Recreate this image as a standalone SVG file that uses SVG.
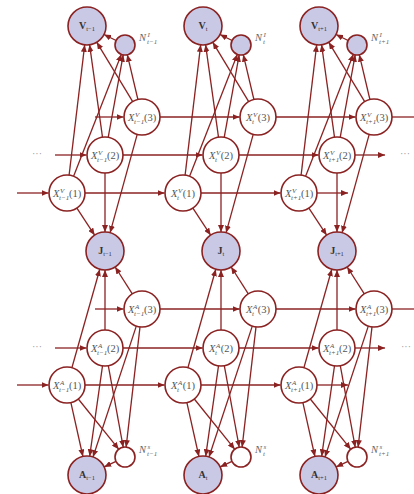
<svg xmlns="http://www.w3.org/2000/svg" width="414" height="494" viewBox="0 0 414 494">
  <style>
    .e { stroke: #8b2222; stroke-width: 1.3; fill: none; marker-end: url(#ah); }
    .h { stroke: #8b2222; stroke-width: 1.3; fill: none; }
    .obs { fill: #c9c9e6; stroke: #8b2222; stroke-width: 1.6; }
    .hid { fill: #ffffff; stroke: #8b2222; stroke-width: 1.6; }
    text { font-family: "Liberation Serif", "DejaVu Serif", serif; }
    .bl { font-size: 10px; font-weight: bold; fill: #333; text-anchor: middle; }
    .bs { font-size: 6.5px; font-weight: normal; }
    .xl { font-size: 10.5px; fill: #555; }
    .it { font-style: italic; }
    .sc { font-size: 7px; font-style: italic; }
    .nl { font-size: 10.5px; fill: #666; }
    .dots { font-size: 10px; fill: #999; text-anchor: middle; }
  </style>
  <defs>
    <marker id="ah" markerUnits="userSpaceOnUse" markerWidth="7" markerHeight="6" refX="7" refY="3" orient="auto">
      <path d="M0,0 L7,3 L0,6 z" fill="#8b2222"/>
    </marker>
  </defs>

  <g id="connectors">
    <!-- horizontal chains: V-side rows -->
    <line class="e" x1="17" y1="193" x2="48.5" y2="193"/>
    <line class="e" x1="85" y1="193" x2="164.5" y2="193"/>
    <line class="e" x1="201" y1="193" x2="280.5" y2="193"/>
    <line class="e" x1="317" y1="193" x2="348" y2="193"/>
    <line class="e" x1="55" y1="155" x2="86.5" y2="155"/>
    <line class="e" x1="123" y1="155" x2="202.5" y2="155"/>
    <line class="e" x1="239" y1="155" x2="318.5" y2="155"/>
    <line class="e" x1="355" y1="155" x2="385" y2="155"/>
    <line class="e" x1="95" y1="117" x2="123.5" y2="117"/>
    <line class="e" x1="160" y1="117" x2="239.5" y2="117"/>
    <line class="e" x1="276" y1="117" x2="355.5" y2="117"/>
    <line class="h" x1="392" y1="117" x2="416" y2="117"/>
    <!-- horizontal chains: A-side rows -->
    <line class="e" x1="17" y1="385" x2="48.5" y2="385"/>
    <line class="e" x1="85" y1="385" x2="164.5" y2="385"/>
    <line class="e" x1="201" y1="385" x2="280.5" y2="385"/>
    <line class="e" x1="317" y1="385" x2="348" y2="385"/>
    <line class="e" x1="55" y1="348" x2="86.5" y2="348"/>
    <line class="e" x1="123" y1="348" x2="202.5" y2="348"/>
    <line class="e" x1="239" y1="348" x2="318.5" y2="348"/>
    <line class="e" x1="355" y1="348" x2="385" y2="348"/>
    <line class="e" x1="95" y1="309" x2="123.5" y2="309"/>
    <line class="e" x1="160" y1="309" x2="239.5" y2="309"/>
    <line class="e" x1="276" y1="309" x2="355.5" y2="309"/>
    <line class="h" x1="392" y1="309" x2="416" y2="309"/>

    <!-- per-slice edges, x relative to the J node -->
    <g id="edges-t-1" transform="translate(105,0)">
      <line class="e" x1="11.1" y1="40.5" x2="-1" y2="34.5"/>
      <line class="e" x1="27.7" y1="101.6" x2="-8.2" y2="42.3"/>
      <line class="e" x1="32.9" y1="99.5" x2="22.3" y2="54.7"/>
      <line class="e" x1="-2.5" y1="137.2" x2="-15.4" y2="44.8"/>
      <line class="e" x1="3.2" y1="137.3" x2="18.2" y2="54.8"/>
      <line class="e" x1="-35.9" y1="175.1" x2="-20.3" y2="44.9"/>
      <line class="e" x1="-31.4" y1="176.2" x2="16.4" y2="54.3"/>
      <line class="e" x1="-28.1" y1="208.1" x2="-10.4" y2="235.1"/>
      <line class="e" x1="0" y1="173" x2="0" y2="232"/>
      <line class="e" x1="32.2" y1="134.4" x2="5.1" y2="232.7"/>
      <line class="e" x1="27.3" y1="293.8" x2="10.2" y2="267"/>
      <line class="e" x1="0" y1="330" x2="0" y2="270"/>
      <line class="e" x1="-33.1" y1="367.7" x2="-5.2" y2="269.3"/>
      <line class="e" x1="-34.1" y1="402.6" x2="-22.1" y2="456.5"/>
      <line class="e" x1="-2.5" y1="365.8" x2="-15.3" y2="456.2"/>
      <line class="e" x1="31.3" y1="326.1" x2="-12" y2="457"/>
      <line class="e" x1="-26.7" y1="399" x2="13.7" y2="449.2"/>
      <line class="e" x1="3.3" y1="365.7" x2="18.2" y2="447.2"/>
      <line class="e" x1="35" y1="326.9" x2="21.1" y2="447.1"/>
      <line class="e" x1="11" y1="461.3" x2="-0.8" y2="466.9"/>
    </g>
    <g id="edges-t" transform="translate(221,0)">
      <line class="e" x1="11.1" y1="40.5" x2="-1" y2="34.5"/>
      <line class="e" x1="27.7" y1="101.6" x2="-8.2" y2="42.3"/>
      <line class="e" x1="32.9" y1="99.5" x2="22.3" y2="54.7"/>
      <line class="e" x1="-2.5" y1="137.2" x2="-15.4" y2="44.8"/>
      <line class="e" x1="3.2" y1="137.3" x2="18.2" y2="54.8"/>
      <line class="e" x1="-35.9" y1="175.1" x2="-20.3" y2="44.9"/>
      <line class="e" x1="-31.4" y1="176.2" x2="16.4" y2="54.3"/>
      <line class="e" x1="-28.1" y1="208.1" x2="-10.4" y2="235.1"/>
      <line class="e" x1="0" y1="173" x2="0" y2="232"/>
      <line class="e" x1="32.2" y1="134.4" x2="5.1" y2="232.7"/>
      <line class="e" x1="27.3" y1="293.8" x2="10.2" y2="267"/>
      <line class="e" x1="0" y1="330" x2="0" y2="270"/>
      <line class="e" x1="-33.1" y1="367.7" x2="-5.2" y2="269.3"/>
      <line class="e" x1="-34.1" y1="402.6" x2="-22.1" y2="456.5"/>
      <line class="e" x1="-2.5" y1="365.8" x2="-15.3" y2="456.2"/>
      <line class="e" x1="31.3" y1="326.1" x2="-12" y2="457"/>
      <line class="e" x1="-26.7" y1="399" x2="13.7" y2="449.2"/>
      <line class="e" x1="3.3" y1="365.7" x2="18.2" y2="447.2"/>
      <line class="e" x1="35" y1="326.9" x2="21.1" y2="447.1"/>
      <line class="e" x1="11" y1="461.3" x2="-0.8" y2="466.9"/>
    </g>
    <g id="edges-t+1" transform="translate(337,0)">
      <line class="e" x1="11.1" y1="40.5" x2="-1" y2="34.5"/>
      <line class="e" x1="27.7" y1="101.6" x2="-8.2" y2="42.3"/>
      <line class="e" x1="32.9" y1="99.5" x2="22.3" y2="54.7"/>
      <line class="e" x1="-2.5" y1="137.2" x2="-15.4" y2="44.8"/>
      <line class="e" x1="3.2" y1="137.3" x2="18.2" y2="54.8"/>
      <line class="e" x1="-35.9" y1="175.1" x2="-20.3" y2="44.9"/>
      <line class="e" x1="-31.4" y1="176.2" x2="16.4" y2="54.3"/>
      <line class="e" x1="-28.1" y1="208.1" x2="-10.4" y2="235.1"/>
      <line class="e" x1="0" y1="173" x2="0" y2="232"/>
      <line class="e" x1="32.2" y1="134.4" x2="5.1" y2="232.7"/>
      <line class="e" x1="27.3" y1="293.8" x2="10.2" y2="267"/>
      <line class="e" x1="0" y1="330" x2="0" y2="270"/>
      <line class="e" x1="-33.1" y1="367.7" x2="-5.2" y2="269.3"/>
      <line class="e" x1="-34.1" y1="402.6" x2="-22.1" y2="456.5"/>
      <line class="e" x1="-2.5" y1="365.8" x2="-15.3" y2="456.2"/>
      <line class="e" x1="31.3" y1="326.1" x2="-12" y2="457"/>
      <line class="e" x1="-26.7" y1="399" x2="13.7" y2="449.2"/>
      <line class="e" x1="3.3" y1="365.7" x2="18.2" y2="447.2"/>
      <line class="e" x1="35" y1="326.9" x2="21.1" y2="447.1"/>
      <line class="e" x1="11" y1="461.3" x2="-0.8" y2="466.9"/>
    </g>
  </g>

  <!-- continuation dots -->
  <text class="dots" x="37" y="157">···</text>
  <text class="dots" x="405" y="157">···</text>
  <text class="dots" x="37" y="350">···</text>
  <text class="dots" x="406" y="350">···</text>

  <!-- slice t-1 -->
  <g id="V-t-1" transform="translate(87,26)"><circle class="obs" r="19"/><text class="bl" y="3">V<tspan class="bs" dy="1.5">t−1</tspan></text></g>
  <g id="NI-t-1" transform="translate(125,45)"><circle class="obs" r="10"/><text class="nl" x="14" y="-4"><tspan class="it">N</tspan><tspan class="sc" x="22.5" dy="-4">I</tspan><tspan class="sc" x="22" dy="7">t−1</tspan></text></g>
  <g id="XV3-t-1" transform="translate(142,117)"><circle class="hid" r="18"/><text class="xl" y="3.5"><tspan class="it" x="-14">X</tspan><tspan class="sc" x="-7" dy="-4">V</tspan><tspan class="sc" x="-8" dy="7">t−1</tspan><tspan x="2" dy="-3">(3)</tspan></text></g>
  <g id="XV2-t-1" transform="translate(105,155)"><circle class="hid" r="18"/><text class="xl" y="3.5"><tspan class="it" x="-14">X</tspan><tspan class="sc" x="-7" dy="-4">V</tspan><tspan class="sc" x="-8" dy="7">t−1</tspan><tspan x="2" dy="-3">(2)</tspan></text></g>
  <g id="XV1-t-1" transform="translate(67,193)"><circle class="hid" r="18"/><text class="xl" y="3.5"><tspan class="it" x="-14">X</tspan><tspan class="sc" x="-7" dy="-4">V</tspan><tspan class="sc" x="-8" dy="7">t−1</tspan><tspan x="2" dy="-3">(1)</tspan></text></g>
  <g id="J-t-1" transform="translate(105,251)"><circle class="obs" r="19"/><text class="bl" y="3">J<tspan class="bs" dy="1.5">t−1</tspan></text></g>
  <g id="XA3-t-1" transform="translate(142,309)"><circle class="hid" r="18"/><text class="xl" y="3.5"><tspan class="it" x="-14">X</tspan><tspan class="sc" x="-7" dy="-4">A</tspan><tspan class="sc" x="-8" dy="7">t−1</tspan><tspan x="2" dy="-3">(3)</tspan></text></g>
  <g id="XA2-t-1" transform="translate(105,348)"><circle class="hid" r="18"/><text class="xl" y="3.5"><tspan class="it" x="-14">X</tspan><tspan class="sc" x="-7" dy="-4">A</tspan><tspan class="sc" x="-8" dy="7">t−1</tspan><tspan x="2" dy="-3">(2)</tspan></text></g>
  <g id="XA1-t-1" transform="translate(67,385)"><circle class="hid" r="18"/><text class="xl" y="3.5"><tspan class="it" x="-14">X</tspan><tspan class="sc" x="-7" dy="-4">A</tspan><tspan class="sc" x="-8" dy="7">t−1</tspan><tspan x="2" dy="-3">(1)</tspan></text></g>
  <g id="NS-t-1" transform="translate(125,457)"><circle class="hid" r="10"/><text class="nl" x="14" y="-4"><tspan class="it">N</tspan><tspan class="sc" x="22.5" dy="-4">s</tspan><tspan class="sc" x="22" dy="7">t−1</tspan></text></g>
  <g id="A-t-1" transform="translate(87,475)"><circle class="obs" r="19"/><text class="bl" y="3">A<tspan class="bs" dy="1.5">t−1</tspan></text></g>

  <!-- slice t -->
  <g id="V-t" transform="translate(203,26)"><circle class="obs" r="19"/><text class="bl" y="3">V<tspan class="bs" dy="1.5">t</tspan></text></g>
  <g id="NI-t" transform="translate(241,45)"><circle class="obs" r="10"/><text class="nl" x="14" y="-4"><tspan class="it">N</tspan><tspan class="sc" x="22.5" dy="-4">I</tspan><tspan class="sc" x="22" dy="7">t</tspan></text></g>
  <g id="XV3-t" transform="translate(258,117)"><circle class="hid" r="18"/><text class="xl" y="3.5"><tspan class="it" x="-12">X</tspan><tspan class="sc" x="-5" dy="-4">V</tspan><tspan class="sc" x="-6" dy="7">t</tspan><tspan x="-0.2" dy="-3">(3)</tspan></text></g>
  <g id="XV2-t" transform="translate(221,155)"><circle class="hid" r="18"/><text class="xl" y="3.5"><tspan class="it" x="-12">X</tspan><tspan class="sc" x="-5" dy="-4">V</tspan><tspan class="sc" x="-6" dy="7">t</tspan><tspan x="-0.2" dy="-3">(2)</tspan></text></g>
  <g id="XV1-t" transform="translate(183,193)"><circle class="hid" r="18"/><text class="xl" y="3.5"><tspan class="it" x="-12">X</tspan><tspan class="sc" x="-5" dy="-4">V</tspan><tspan class="sc" x="-6" dy="7">t</tspan><tspan x="-0.2" dy="-3">(1)</tspan></text></g>
  <g id="J-t" transform="translate(221,251)"><circle class="obs" r="19"/><text class="bl" y="3">J<tspan class="bs" dy="1.5">t</tspan></text></g>
  <g id="XA3-t" transform="translate(258,309)"><circle class="hid" r="18"/><text class="xl" y="3.5"><tspan class="it" x="-12">X</tspan><tspan class="sc" x="-5" dy="-4">A</tspan><tspan class="sc" x="-6" dy="7">t</tspan><tspan x="-0.2" dy="-3">(3)</tspan></text></g>
  <g id="XA2-t" transform="translate(221,348)"><circle class="hid" r="18"/><text class="xl" y="3.5"><tspan class="it" x="-12">X</tspan><tspan class="sc" x="-5" dy="-4">A</tspan><tspan class="sc" x="-6" dy="7">t</tspan><tspan x="-0.2" dy="-3">(2)</tspan></text></g>
  <g id="XA1-t" transform="translate(183,385)"><circle class="hid" r="18"/><text class="xl" y="3.5"><tspan class="it" x="-12">X</tspan><tspan class="sc" x="-5" dy="-4">A</tspan><tspan class="sc" x="-6" dy="7">t</tspan><tspan x="-0.2" dy="-3">(1)</tspan></text></g>
  <g id="NS-t" transform="translate(241,457)"><circle class="hid" r="10"/><text class="nl" x="14" y="-4"><tspan class="it">N</tspan><tspan class="sc" x="22.5" dy="-4">s</tspan><tspan class="sc" x="22" dy="7">t</tspan></text></g>
  <g id="A-t" transform="translate(203,475)"><circle class="obs" r="19"/><text class="bl" y="3">A<tspan class="bs" dy="1.5">t</tspan></text></g>

  <!-- slice t+1 -->
  <g id="V-t+1" transform="translate(319,26)"><circle class="obs" r="19"/><text class="bl" y="3">V<tspan class="bs" dy="1.5">t+1</tspan></text></g>
  <g id="NI-t+1" transform="translate(357,45)"><circle class="obs" r="10"/><text class="nl" x="14" y="-4"><tspan class="it">N</tspan><tspan class="sc" x="22.5" dy="-4">I</tspan><tspan class="sc" x="22" dy="7">t+1</tspan></text></g>
  <g id="XV3-t+1" transform="translate(374,117)"><circle class="hid" r="18"/><text class="xl" y="3.5"><tspan class="it" x="-14">X</tspan><tspan class="sc" x="-7" dy="-4">V</tspan><tspan class="sc" x="-8" dy="7">t+1</tspan><tspan x="2" dy="-3">(3)</tspan></text></g>
  <g id="XV2-t+1" transform="translate(337,155)"><circle class="hid" r="18"/><text class="xl" y="3.5"><tspan class="it" x="-14">X</tspan><tspan class="sc" x="-7" dy="-4">V</tspan><tspan class="sc" x="-8" dy="7">t+1</tspan><tspan x="2" dy="-3">(2)</tspan></text></g>
  <g id="XV1-t+1" transform="translate(299,193)"><circle class="hid" r="18"/><text class="xl" y="3.5"><tspan class="it" x="-14">X</tspan><tspan class="sc" x="-7" dy="-4">V</tspan><tspan class="sc" x="-8" dy="7">t+1</tspan><tspan x="2" dy="-3">(1)</tspan></text></g>
  <g id="J-t+1" transform="translate(337,251)"><circle class="obs" r="19"/><text class="bl" y="3">J<tspan class="bs" dy="1.5">t+1</tspan></text></g>
  <g id="XA3-t+1" transform="translate(374,309)"><circle class="hid" r="18"/><text class="xl" y="3.5"><tspan class="it" x="-14">X</tspan><tspan class="sc" x="-7" dy="-4">A</tspan><tspan class="sc" x="-8" dy="7">t+1</tspan><tspan x="2" dy="-3">(3)</tspan></text></g>
  <g id="XA2-t+1" transform="translate(337,348)"><circle class="hid" r="18"/><text class="xl" y="3.5"><tspan class="it" x="-14">X</tspan><tspan class="sc" x="-7" dy="-4">A</tspan><tspan class="sc" x="-8" dy="7">t+1</tspan><tspan x="2" dy="-3">(2)</tspan></text></g>
  <g id="XA1-t+1" transform="translate(299,385)"><circle class="hid" r="18"/><text class="xl" y="3.5"><tspan class="it" x="-14">X</tspan><tspan class="sc" x="-7" dy="-4">A</tspan><tspan class="sc" x="-8" dy="7">t+1</tspan><tspan x="2" dy="-3">(1)</tspan></text></g>
  <g id="NS-t+1" transform="translate(357,457)"><circle class="hid" r="10"/><text class="nl" x="14" y="-4"><tspan class="it">N</tspan><tspan class="sc" x="22.5" dy="-4">s</tspan><tspan class="sc" x="22" dy="7">t+1</tspan></text></g>
  <g id="A-t+1" transform="translate(319,475)"><circle class="obs" r="19"/><text class="bl" y="3">A<tspan class="bs" dy="1.5">t+1</tspan></text></g>
</svg>
